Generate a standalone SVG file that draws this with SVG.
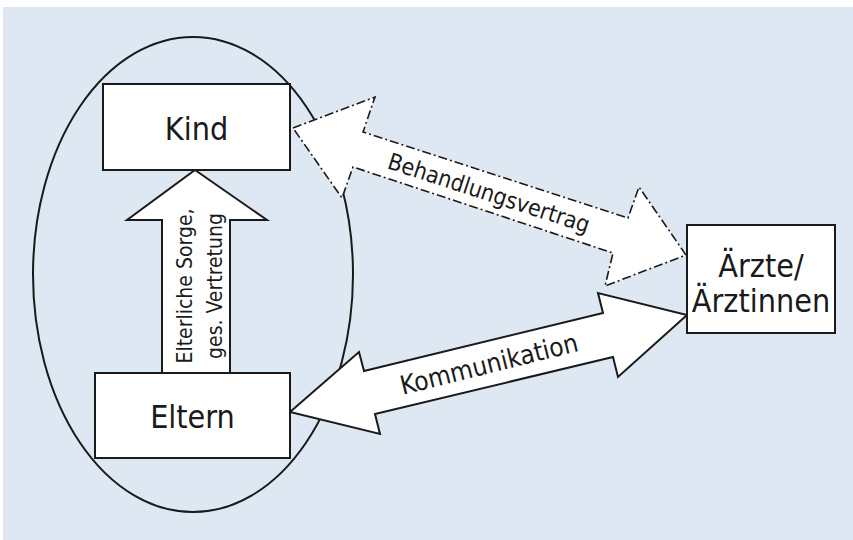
<svg xmlns="http://www.w3.org/2000/svg" width="853" height="540" viewBox="0 0 853 540">
<style>
text{font-family:"DejaVu Sans Condensed","DejaVu Sans",sans-serif;fill:#1a1a1a}
.box{fill:#fff;stroke:#1a1a1a;stroke-width:2}
.arr{fill:#fff;stroke:#1a1a1a;stroke-width:2;stroke-linejoin:miter}
.dash{fill:#fff;stroke:#1a1a1a;stroke-width:1.6;stroke-dasharray:9 3 2 3}
.big{font-size:32px}
</style>
<rect x="0" y="0" width="853" height="540" fill="#fff"/>
<rect x="3" y="7" width="850" height="533" fill="#dee8f3"/>
<g id="group-ellipse">
<ellipse cx="193" cy="274.5" rx="160" ry="237.5" fill="none" stroke="#1a1a1a" stroke-width="2"/>
</g>
<g id="connectors">
<g id="sorge">
<polygon class="arr" points="195,170 267,220 230,220 230,373 162,373 162,220 127,220"/>
<text font-size="21" text-anchor="middle" transform="translate(192,286) rotate(-90)"><tspan x="0" y="0">Elterliche Sorge,</tspan><tspan x="0" y="30">ges. Vertretung</tspan></text>
</g>
<g id="behandlungsvertrag">
<polygon class="dash" points="293,128 375,97 363,132 628,218 639,187 686,255 605,286 613,253 353,167 342,198"/>
<text font-size="23" text-anchor="middle" transform="translate(489,193) rotate(18)" y="8">Behandlungsvertrag</text>
</g>
<g id="kommunikation">
<polygon class="arr" points="290,412 359,352 364,371 603,313 598,293 687,315 618,377 613,357 375,414 380,434"/>
<text font-size="26" text-anchor="middle" transform="translate(489,364) rotate(-14)" y="9">Kommunikation</text>
</g>
</g>
<g id="kind">
<rect class="box" x="103" y="84" width="187" height="86"/>
<text class="big" x="196.5" y="140" text-anchor="middle">Kind</text>
</g>
<g id="eltern">
<rect class="box" x="95" y="373" width="195" height="85"/>
<text class="big" x="192.5" y="428" text-anchor="middle">Eltern</text>
</g>
<g id="aerzte">
<rect class="box" x="687" y="225" width="148" height="108"/>
<text class="big" x="761" y="277" text-anchor="middle">Ärzte/</text>
<text class="big" x="761" y="312" text-anchor="middle">Ärztinnen</text>
</g>
</svg>
